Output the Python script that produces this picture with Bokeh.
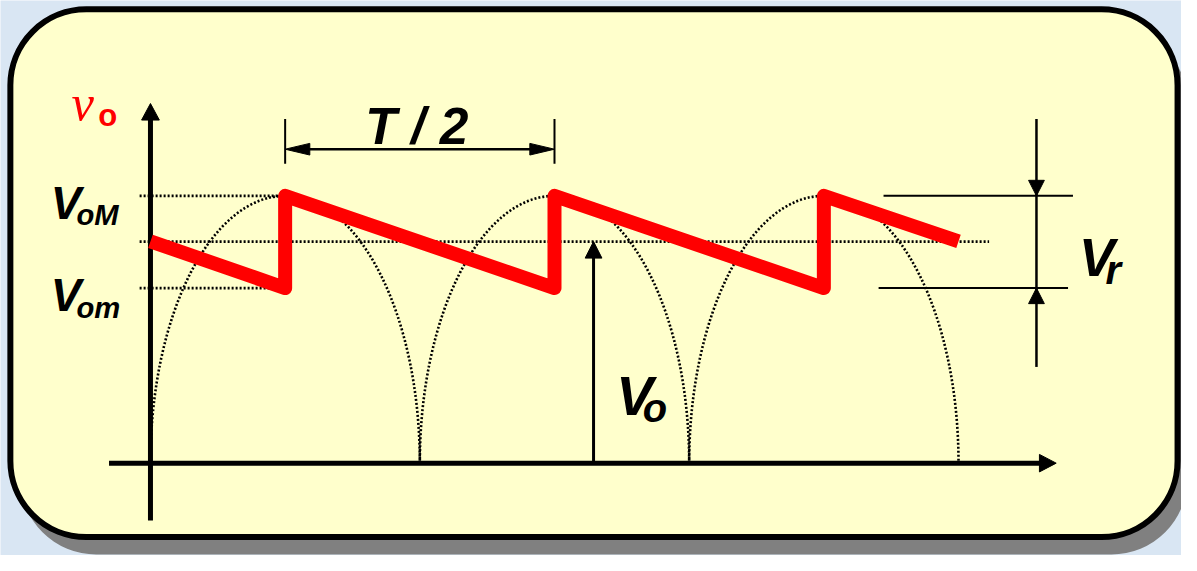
from bokeh.plotting import figure
from bokeh.models import Range1d, BoxAnnotation
from bokeh.core.properties import value
from bokeh.embed import file_html
from bokeh.resources import INLINE

# ---------------- data (chart units: t in T/2, v in VoM) ----------------
arc_zeros = [0.0, 1.0, 2.0, 3.0]          # zero crossings of rectified half-waves
arc_peak = 1.0                            # peak of half-waves (VoM)
saw_t = [0.0, 0.5, 0.5, 1.5, 1.5, 2.5, 2.5, 3.0]
saw_v = [0.83, 0.655, 1.0, 0.655, 1.0, 0.655, 1.0, 0.83]
V_oM = 1.0
V_om = 0.655
V_o = 0.829
half_period = [0.5, 1.5]                  # T/2 dimension ends
V_o_arrow_t = 1.645

# ---------------- layout helpers (reference pixels -> chart units) ----------------
X0, Y0, SX, SY = 152.0, 476.0, 273.0, 275.0
W_REF, H_REF = 1197.0, 571.0
FIG_W, FIG_H = 1181, 555
KX, KY = FIG_W / W_REF, FIG_H / H_REF


def tx(X):
    return (X - X0) / SX


def ty(Y):
    return (Y0 - Y) / SY


def fs(px):
    return f"{px * KY:.1f}px"


p = figure(width=FIG_W, height=FIG_H,
           x_range=Range1d(tx(0), tx(W_REF)), y_range=Range1d(ty(H_REF), ty(0)),
           output_backend="svg", toolbar_location=None, min_border=0)
p.axis.visible = False
p.grid.visible = False
p.outline_line_color = None
p.background_fill_color = "#d9e6f3"
p.border_fill_color = "#d9e6f3"

RADIUS = int(round(77 * KX))
# panel shadow and panel
shadow = BoxAnnotation(left=tx(10 + 10), right=tx(1193 + 10), top=ty(9 + 18), bottom=ty(552 + 18),
                       fill_color="#808080", fill_alpha=1.0, line_color=None,
                       border_radius=RADIUS, level="underlay")
panel = BoxAnnotation(left=tx(10), right=tx(1193), top=ty(9), bottom=ty(552),
                      fill_color="#ffffcc", fill_alpha=1.0, line_color="black", line_width=6,
                      line_alpha=1.0, border_radius=RADIUS, level="underlay")
p.add_layout(shadow)
p.add_layout(panel)

# dotted half-wave arcs (half ellipses as two cubic Beziers each)
K = 0.5523
bx0, by0, bx1, by1, bcx0, bcy0, bcx1, bcy1 = ([] for _ in range(8))
for z0, z1 in zip(arc_zeros[:-1], arc_zeros[1:]):
    c = (z0 + z1) / 2
    a = (z1 - z0) / 2
    # rising quarter
    bx0.append(z0); by0.append(0.0); bx1.append(c); by1.append(arc_peak)
    bcx0.append(z0); bcy0.append(K * arc_peak); bcx1.append(c - K * a); bcy1.append(arc_peak)
    # falling quarter
    bx0.append(c); by0.append(arc_peak); bx1.append(z1); by1.append(0.0)
    bcx0.append(c + K * a); bcy0.append(arc_peak); bcx1.append(z1); bcy1.append(K * arc_peak)
p.bezier(x0=bx0, y0=by0, x1=bx1, y1=by1, cx0=bcx0, cy0=bcy0, cx1=bcx1, cy1=bcy1,
         line_color="black", line_width=2.6, line_dash="2 2")

# dotted level lines
p.segment(x0=[tx(141), tx(141), tx(141)], y0=[V_oM, V_o, V_om],
          x1=[saw_t[1], tx(1002), saw_t[1]], y1=[V_oM, V_o, V_om],
          line_color="black", line_width=2.6, line_dash="2 2")

# ---------------- arrows ----------------
heads_x, heads_y = [], []


def head(tip_t, tip_v, direction, length_px, width_px):
    L = length_px
    W = width_px / 2
    if direction == "up":
        xs = [tip_t, tip_t - W / SX, tip_t + W / SX]
        ys = [tip_v, tip_v - L / SY, tip_v - L / SY]
    elif direction == "down":
        xs = [tip_t, tip_t - W / SX, tip_t + W / SX]
        ys = [tip_v, tip_v + L / SY, tip_v + L / SY]
    elif direction == "right":
        xs = [tip_t, tip_t - L / SX, tip_t - L / SX]
        ys = [tip_v, tip_v + W / SY, tip_v - W / SY]
    else:  # left
        xs = [tip_t, tip_t + L / SX, tip_t + L / SX]
        ys = [tip_v, tip_v + W / SY, tip_v - W / SY]
    heads_x.append(xs)
    heads_y.append(ys)


# axes
y_tip = ty(106)
x_tip = tx(1070)
p.segment(x0=[0, tx(110)], y0=[ty(535), 0], x1=[0, x_tip - 8 / SX], y1=[y_tip - 8 / SY, 0],
          line_color="black", line_width=5)
head(0, y_tip, "up", 17, 18)
head(x_tip, 0, "right", 17, 18)

# T/2 dimension
dim_v = ty(153)
p.segment(x0=half_period, y0=[ty(122)] * 2, x1=half_period, y1=[ty(168)] * 2,
          line_color="black", line_width=2)
p.segment(x0=[half_period[0] + 10 / SX], y0=[dim_v], x1=[half_period[1] - 10 / SX], y1=[dim_v],
          line_color="black", line_width=2.5)
head(half_period[0], dim_v, "left", 25, 12)
head(half_period[1], dim_v, "right", 25, 12)

# Vo arrow
p.segment(x0=[V_o_arrow_t], y0=[0], x1=[V_o_arrow_t], y1=[V_o - 8 / SY],
          line_color="black", line_width=3)
head(V_o_arrow_t, V_o, "up", 17, 17)

# Vr dimension
vr_t = tx(1050)
p.segment(x0=[tx(895), tx(890)], y0=[V_oM, V_om], x1=[tx(1087), tx(1082)], y1=[V_oM, V_om],
          line_color="black", line_width=2)
p.segment(x0=[vr_t], y0=[ty(122)], x1=[vr_t], y1=[ty(377)], line_color="black", line_width=2.5)
head(vr_t, V_oM, "down", 16, 16)
head(vr_t, V_om, "up", 16, 16)

p.patches(xs=heads_x, ys=heads_y, fill_color="black", line_color="black", line_width=1)

# red output waveform
p.line(saw_t, saw_v, line_color="#ff0000", line_width=14, line_join="round", line_cap="butt")

# ---------------- labels ----------------
SANS = value("Liberation Sans")


def label(X, Y, s, size, color="black", font=SANS, style="bold italic", align="left"):
    p.text(x=[tx(X)], y=[ty(Y)], text=[s], text_font=font, text_font_style=style,
           text_font_size=fs(size), text_color=color, text_align=align,
           text_baseline="alphabetic")


label(422, 129, "T / 2", 53, align="center")
label(51, 209, "V", 47)
label(77, 221, "oM", 30)
label(51, 304, "V", 47)
label(77, 316, "om", 30)
label(624, 407, "V", 57)
label(651, 419, "o", 41)
label(1093, 264, "V", 55)
label(1120, 277, "r", 41)
label(72, 105, "v", 52, color="#ff0000", font=value("Liberation Serif"), style="italic")
label(99, 118, "o", 32, color="#ff0000", style="bold")

open("out.html", "w").write(file_html(p, INLINE))
